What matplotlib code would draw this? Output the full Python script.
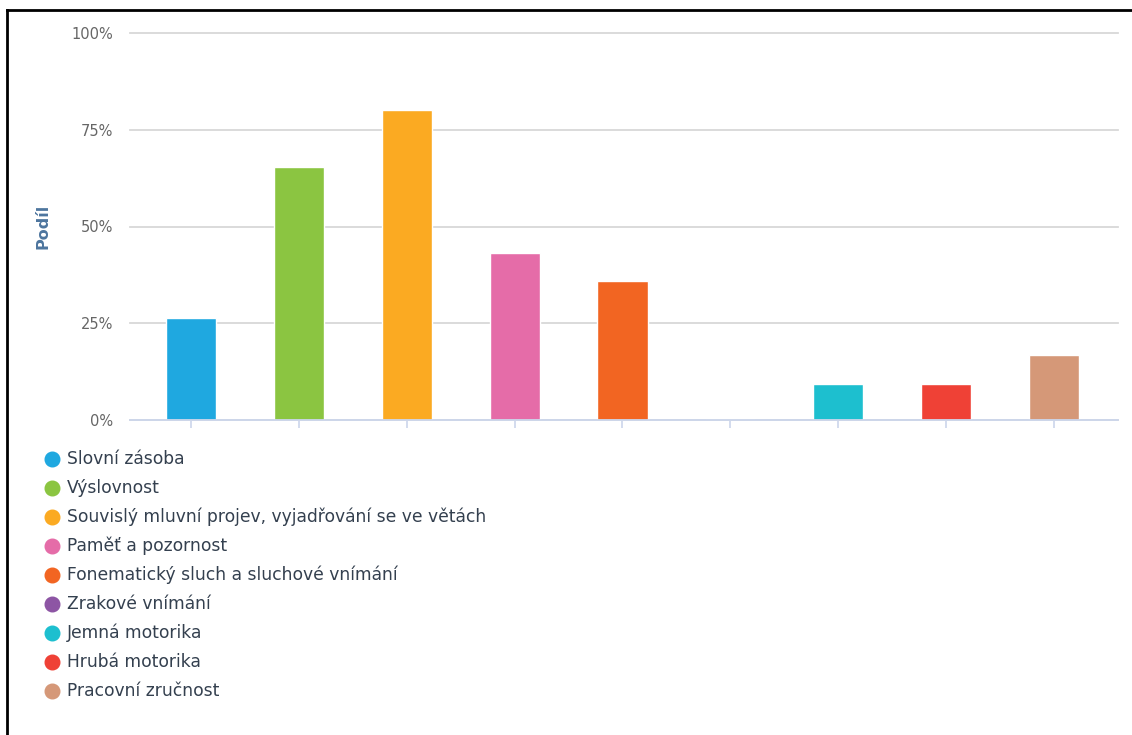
import matplotlib.pyplot as plt
from matplotlib.lines import Line2D
from matplotlib.ticker import FuncFormatter

# Podíl dětí podle oblasti (v %)
kategorie = [
    "Slovní zásoba",
    "Výslovnost",
    "Souvislý mluvní projev, vyjadřování se ve větách",
    "Paměť a pozornost",
    "Fonematický sluch a sluchové vnímání",
    "Zrakové vnímání",
    "Jemná motorika",
    "Hrubá motorika",
    "Pracovní zručnost",
]
podil = [26.4, 65.4, 80.1, 43.2, 35.9, 0.0, 9.3, 9.3, 16.8]
barvy = ["#1fa8e0", "#8bc541", "#fbaa22", "#e56ca8", "#f26522",
         "#8d55a4", "#1dbfcf", "#ef4136", "#d59878"]
y_ticks = [0, 25, 50, 75, 100]

plt.rcParams['font.family'] = ['DejaVu Sans']

fig = plt.figure(figsize=(11.32, 7.35), dpi=100)
W, H = 1132, 735
ax = fig.add_axes([130 / W, 1 - 420 / H, (1118 - 130) / W, (420 - 33) / H])

x = range(len(kategorie))
ax.bar(x, podil, width=0.465, color=barvy, edgecolor="white", linewidth=1, zorder=3)

ax.set_xlim(-0.565, len(kategorie) - 1 + 0.593)
ax.set_ylim(0, 100)
ax.set_yticks(y_ticks)
ax.yaxis.set_major_formatter(FuncFormatter(lambda v, p: f"{v:.0f}%"))
ax.set_xticks(list(x))
ax.set_xticklabels([])

ax.grid(axis="y", color="#d8d8d8", linewidth=1.3, zorder=0)
for g in ax.get_ygridlines():
    g.set_clip_on(False)
for s in ["top", "right", "left"]:
    ax.spines[s].set_visible(False)
ax.spines["bottom"].set_color("#ccd6eb")
ax.spines["bottom"].set_linewidth(1.3)
ax.spines["bottom"].set_zorder(4)
ax.tick_params(axis="x", length=5.5, width=1.2, color="#ccd6eb")
ax.tick_params(axis="y", length=0, pad=12, labelsize=10.5, labelcolor="#666666")

fig.text(43 / W, 1 - 226 / H, "Podíl", rotation=90, ha="center", va="center",
         fontsize=11.5, fontweight="bold", color="#4d759e")

# legenda
for i, (nazev, barva) in enumerate(zip(kategorie, barvy)):
    yy = 1 - (459 + 29 * i) / H
    fig.add_artist(Line2D([51.5 / W], [yy], marker="o", markersize=10.5,
                          color=barva, linestyle="none", transform=fig.transFigure))
    fig.text(67 / W, yy, nazev, ha="left", va="center", fontsize=12.3, color="#34404f")

# rámeček vlevo a nahoře
fig.add_artist(Line2D([7 / W, 7 / W], [0, 1 - 10 / H], color="black", linewidth=2,
                      transform=fig.transFigure))
fig.add_artist(Line2D([7 / W, 1], [1 - 10 / H, 1 - 10 / H], color="black", linewidth=2,
                      transform=fig.transFigure))

plt.savefig("out.png", dpi=100)
